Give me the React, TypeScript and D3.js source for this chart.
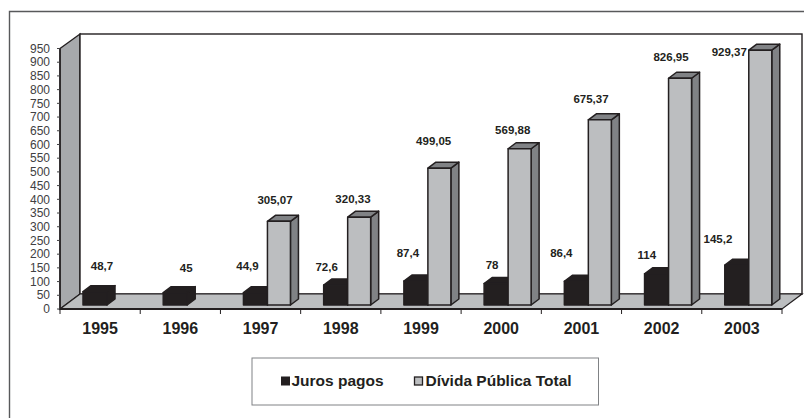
import * as d3 from 'd3';

const years = ['1995', '1996', '1997', '1998', '1999', '2000', '2001', '2002', '2003'];
const juros = [48.7, 45, 44.9, 72.6, 87.4, 78, 86.4, 114, 145.2];
const divida = [null, null, 305.07, 320.33, 499.05, 569.88, 675.37, 826.95, 929.37];
const yTicks = d3.range(0, 951, 50);

const jurosLabelOffset = [[19, -21.6], [23, -20.7], [4, -22.7], [3, -14.1], [4, -24], [8, -14.6], [-3, -24.3], [2.2, -15], [-6.8, -22.2]];
const dividaLabelOffset = [[0, 0], [0, 0], [-3.4, -17.3], [-5.7, -14.5], [-5.2, -23.5], [-6.4, -15], [-8.3, -17], [-8.5, -16.9], [-30.5, 5.5]];

const fmt = (v: number) => String(v).replace('.', ',');
const FONT = '"Liberation Sans", Arial, sans-serif';

const DX = 8;
const DY = 6;

const x = d3.scaleBand<string>().domain(years).range([60, 782]);
const yAxis = d3.scaleLinear().domain([0, 950]).range([309, 48.5]);
// bars stand slightly behind the axis plane
const yBar = d3.scaleLinear().domain([0, 950]).range([305, 44.5]);

function Bar({ x0, w, v, front, side, top }: { x0: number; w: number; v: number; front: string; side: string; top: string }) {
  const y0 = yBar(0);
  const y1 = yBar(v);
  return (
    <g stroke="#231f20" strokeWidth={1.5} strokeLinejoin="round">
      <path d={`M${x0 + w},${y1}L${x0 + w + DX},${y1 - DY}V${y0 - DY}L${x0 + w},${y0}Z`} fill={side} />
      <path d={`M${x0},${y1}L${x0 + DX},${y1 - DY}H${x0 + w + DX}L${x0 + w},${y1}Z`} fill={top} />
      <rect x={x0} y={y1} width={w} height={y0 - y1} fill={front} />
    </g>
  );
}

export default function App() {
  const bw = x.bandwidth();
  const floorY = yAxis(0);
  const backY = floorY - 15;
  return (
    <svg width={804} height={418} style={{ position: 'absolute', left: 0, top: 0, background: '#fff' }} fontFamily={FONT}>
      {/* outer frame, runs off the photo at the bottom and right */}
      <path d="M9.5,420V11.5H806" fill="none" stroke="#58595b" strokeWidth={1.4} />

      {/* walls and floor */}
      <path d={`M60,${yAxis(950)}L80,34V${backY}L60,${floorY}Z`} fill="#a7a9ac" stroke="#231f20" strokeWidth={1.4} />
      <rect x={80} y={34} width={722} height={backY - 34} fill="#fff" stroke="#231f20" strokeWidth={1.4} />
      <path d={`M60,${floorY}L80,${backY}H802L782,${floorY}Z`} fill="#bcbec0" stroke="#231f20" strokeWidth={1.2} />

      {/* axes */}
      <line x1={60} x2={60} y1={yAxis(950)} y2={floorY} stroke="#231f20" strokeWidth={1.4} />
      <line x1={60} x2={782} y1={floorY} y2={floorY} stroke="#231f20" strokeWidth={1.8} />
      {yTicks.map(t => (
        <g key={t}>
          <line x1={57} x2={60} y1={yAxis(t)} y2={yAxis(t)} stroke="#414042" />
          <text x={50} y={yAxis(t) + 4.2} textAnchor="end" fontSize={12} fill="#414042">{t}</text>
        </g>
      ))}
      {[...years, ''].map((_, i) => {
        const tx = 60 + i * bw;
        return <line key={i} x1={tx} x2={tx} y1={floorY} y2={floorY + 5} stroke="#231f20" />;
      })}
      {years.map(yr => (
        <text key={yr} x={x(yr)! + bw / 2} y={334} textAnchor="middle" fontSize={16} fontWeight="bold" fill="#231f20">{yr}</text>
      ))}

      {/* bars */}
      {years.map((yr, i) => {
        const x0 = x(yr)! + 23;
        const d = divida[i];
        return (
          <g key={yr}>
            <Bar x0={x0} w={24} v={juros[i]} front="#231f20" side="#231f20" top="#231f20" />
            {d !== null && <Bar x0={x0 + 24} w={23} v={d} front="#bcbec0" side="#808285" top="#808285" />}
          </g>
        );
      })}

      {/* data labels */}
      {years.map((yr, i) => {
        const x0 = x(yr)! + 23;
        const d = divida[i];
        const [jx, jy] = jurosLabelOffset[i];
        const [dx, dy] = dividaLabelOffset[i];
        return (
          <g key={yr} fontSize={11.5} fontWeight="bold" fill="#231f20" textAnchor="middle">
            <text x={x0 + jx} y={yBar(juros[i]) + jy}>{fmt(juros[i])}</text>
            {d !== null && <text x={x0 + 35 + dx} y={yBar(d) + dy}>{fmt(d)}</text>}
          </g>
        );
      })}

      {/* legend */}
      <rect x={252} y={358} width={346.5} height={47} fill="#fff" stroke="#808285" strokeWidth={1} />
      <rect x={281} y={376.5} width={9} height={9} fill="#231f20" />
      <text x={291.5} y={386} fontSize={15.5} fontWeight="bold" fill="#231f20">Juros pagos</text>
      <rect x={414.5} y={377} width={8} height={8} fill="#bcbec0" stroke="#231f20" strokeWidth={1.3} />
      <text x={425.5} y={386} fontSize={15.5} fontWeight="bold" fill="#231f20">Dívida Pública Total</text>
    </svg>
  );
}
